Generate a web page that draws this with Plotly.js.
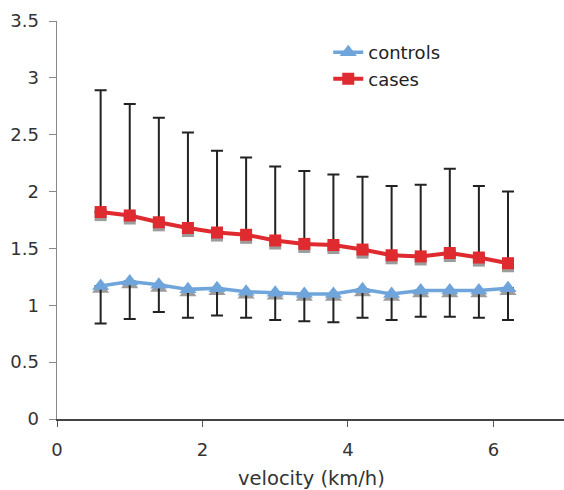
<!DOCTYPE html>
<html>
<head>
<meta charset="utf-8">
<script src="https://cdn.plot.ly/plotly-3.0.1.min.js"></script>
<style>html,body{margin:0;padding:0;background:#fff;}#chart{width:564px;height:490px;}</style>
</head>
<body>
<div id="chart"></div>
<script>
var velocity = [0.6, 1.0, 1.4, 1.8, 2.2, 2.6, 3.0, 3.4, 3.8, 4.2, 4.6, 5.0, 5.4, 5.8, 6.2];
var controls = [1.17, 1.21, 1.18, 1.14, 1.15, 1.12, 1.11, 1.10, 1.10, 1.14, 1.10, 1.13, 1.13, 1.13, 1.15];
var controlsLower = [0.84, 0.88, 0.94, 0.89, 0.91, 0.89, 0.87, 0.86, 0.85, 0.89, 0.87, 0.90, 0.90, 0.89, 0.87];
var cases = [1.82, 1.79, 1.73, 1.68, 1.64, 1.62, 1.57, 1.54, 1.53, 1.49, 1.44, 1.43, 1.46, 1.42, 1.37];
var casesUpper = [2.89, 2.77, 2.65, 2.52, 2.36, 2.30, 2.22, 2.18, 2.15, 2.13, 2.05, 2.06, 2.20, 2.05, 2.00];
var xTicks = [0, 2, 4, 6];
var xTitle = 'velocity (km/h)';

var controlsMinus = controls.map(function (v, i) { return v - controlsLower[i]; });
var casesPlus = cases.map(function (v, i) { return casesUpper[i] - v; });
var zeros = velocity.map(function () { return 0; });

var blue = '#6FA5DB';
var red = '#DF2A30';
var shadow = '#9C9C9C';
var family = 'DejaVu Sans, Verdana, sans-serif';

var traces = [
  // marker shadows on the (hidden) primary axis, whose range is shifted a few pixels
  { x: velocity, y: controls, yaxis: 'y', mode: 'markers', showlegend: false, hoverinfo: 'skip',
    marker: { symbol: 'triangle-up', size: 15, color: shadow } },
  { x: velocity, y: cases, yaxis: 'y', mode: 'markers', showlegend: false, hoverinfo: 'skip',
    marker: { symbol: 'square', size: 12, color: shadow } },
  { x: velocity, y: controls, yaxis: 'y2', name: 'controls', mode: 'lines+markers',
    line: { color: blue, width: 3.5 },
    marker: { symbol: 'triangle-up', size: 15, color: blue },
    error_y: { type: 'data', symmetric: false, array: zeros, arrayminus: controlsMinus,
               color: '#222', thickness: 2, width: 6 } },
  { x: velocity, y: cases, yaxis: 'y2', name: 'cases', mode: 'lines+markers',
    line: { color: red, width: 4 },
    marker: { symbol: 'square', size: 12, color: red },
    error_y: { type: 'data', symmetric: false, array: casesPlus, arrayminus: zeros,
               color: '#222', thickness: 2, width: 6 } }
];

var tickFont = { family: family, size: 18, color: '#333' };

var layout = {
  width: 564, height: 490,
  margin: { l: 57, r: 0, t: 21, b: 71 },
  paper_bgcolor: '#fff', plot_bgcolor: 'rgba(0,0,0,0)',
  font: tickFont,
  showlegend: true,
  legend: { x: 0.535, y: 0.967, xanchor: 'left', yanchor: 'top',
            font: { family: family, size: 18, color: '#222' },
            bgcolor: 'rgba(0,0,0,0)', tracegroupgap: 0 },
  xaxis: {
    range: [0, 6.97], tickvals: xTicks, ticktext: xTicks.map(String),
    showgrid: false, zeroline: false, showline: true, linecolor: '#444', linewidth: 1.5,
    ticks: 'outside', ticklen: 6, tickcolor: '#555', tickfont: tickFont, ticklabelstandoff: 8
  },
  yaxis: { range: [0.027, 3.527], visible: false, showgrid: false, zeroline: false },
  yaxis2: {
    overlaying: 'y', side: 'left',
    range: [0, 3.5], dtick: 0.5, showgrid: false, zeroline: false,
    showline: true, linecolor: '#888', linewidth: 1.5,
    ticks: 'outside', ticklen: 7, tickcolor: '#888', tickfont: tickFont, ticklabelstandoff: 6
  },
  annotations: [{
    text: xTitle, xref: 'paper', yref: 'paper', x: 0.502, y: 0, yshift: -59,
    xanchor: 'center', yanchor: 'middle', showarrow: false,
    font: { family: family, size: 19.5, color: '#333' }
  }]
};

Plotly.newPlot('chart', traces, layout, { displayModeBar: false, staticPlot: true });
</script>
</body>
</html>
